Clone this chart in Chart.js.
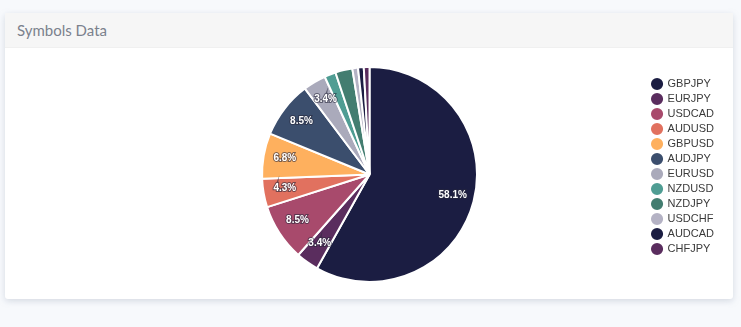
<!DOCTYPE html>
<html>
<head>
<meta charset="utf-8">
<script src="https://cdn.jsdelivr.net/npm/chart.js@4"></script>
<style>
  html, body { margin: 0; padding: 0; background: #f7f9fc; }
  body { width: 741px; height: 327px; position: relative; overflow: hidden; }
  .card {
    position: absolute; left: 5px; top: 13px; width: 728px; height: 286px;
    background: #fff; border-radius: 3px;
    box-shadow: 0 2px 6px rgba(150, 160, 180, 0.35);
  }
  .card-header {
    height: 34px; background: #f6f6f6; border-bottom: 1px solid #f0f0f0;
    font-family: Lato, "Open Sans", sans-serif; font-size: 15px; color: #7b818d;
    line-height: 34px; padding-left: 12px;
  }
  .chart-box { position: absolute; left: 0; top: 35px; width: 728px; height: 251px; }
</style>
</head>
<body>
<div class="card">
  <div class="card-header">Symbols Data</div>
  <div class="chart-box"><canvas id="symbolsChart" width="728" height="251"></canvas></div>
</div>
<script>
const symbols = ["GBPJPY", "EURJPY", "USDCAD", "AUDUSD", "GBPUSD", "AUDJPY",
  "EURUSD", "NZDUSD", "NZDJPY", "USDCHF", "AUDCAD", "CHFJPY"];
const trades = [68, 4, 10, 5, 8, 10, 4, 2, 3, 1, 1, 1];
const colors = ["#1b1d42", "#5a2d5e", "#a84a6c", "#e1715f", "#feb05e", "#3b4e6d",
  "#aaaabb", "#4f9d93", "#437d70", "#b4b2c4", "#1b1d42", "#5a2d5e"];

// percent labels drawn on the slices
const pctLabels = {
  id: "pctLabels",
  afterLayout(chart) {
    // legend sits a little higher than the pie
    chart.legend.top -= 8;
    chart.legend.bottom -= 8;
  },
  afterDatasetsDraw(chart) {
    const ctx = chart.ctx;
    const meta = chart.getDatasetMeta(0);
    const total = trades.reduce((a, b) => a + b, 0);
    ctx.save();
    ctx.font = "bold 10px 'Liberation Sans', Arial, sans-serif";
    ctx.textAlign = "center";
    ctx.textBaseline = "middle";
    meta.data.forEach((arc, i) => {
      const pct = trades[i] / total * 100;
      if (pct < 3) return;
      const mid = (arc.startAngle + arc.endAngle) / 2;
      const r = arc.outerRadius * 0.8;
      const x = arc.x + Math.cos(mid) * r;
      const y = arc.y + Math.sin(mid) * r - 1;
      const txt = pct.toFixed(1) + "%";
      ctx.lineWidth = 2;
      ctx.strokeStyle = "rgba(40,40,60,0.6)";
      ctx.strokeText(txt, x, y);
      ctx.fillStyle = "#fff";
      ctx.fillText(txt, x, y);
    });
    ctx.restore();
  }
};

new Chart(document.getElementById("symbolsChart").getContext("2d"), {
  type: "pie",
  data: {
    labels: symbols,
    datasets: [{
      data: trades,
      backgroundColor: colors,
      borderColor: "#fff",
      borderWidth: 2
    }]
  },
  options: {
    responsive: false,
    maintainAspectRatio: false,
    animation: false,
    layout: { padding: { left: 86, right: 9, top: 18, bottom: 16 } },
    plugins: {
      tooltip: { enabled: false },
      legend: {
        position: "right",
        labels: {
          usePointStyle: true,
          pointStyle: "circle",
          boxWidth: 10,
          boxHeight: 10,
          padding: 4,
          color: "#3a3a3a",
          font: { family: "'Liberation Sans', Arial, sans-serif", size: 11 }
        }
      }
    }
  },
  plugins: [pctLabels]
});
</script>
</body>
</html>
